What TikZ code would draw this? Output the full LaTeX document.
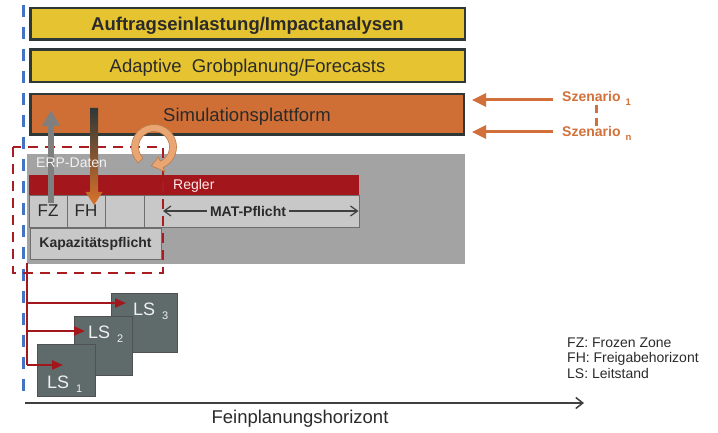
\documentclass[tikz,border=0pt]{standalone}
\usepackage{fontspec}
\setmainfont{Liberation Sans}
\usetikzlibrary{arrows.meta}
\definecolor{yellowfill}{HTML}{E6C431}
\definecolor{boxborder}{HTML}{2E3838}
\definecolor{orangefill}{HTML}{D06F35}
\definecolor{graybg}{HTML}{A3A3A3}
\definecolor{reglerred}{HTML}{A3161C}
\definecolor{cellfill}{HTML}{C8C8C8}
\definecolor{cellborder}{HTML}{6E6E6E}
\definecolor{lsfill}{HTML}{5F6A6A}
\definecolor{lsborder}{HTML}{4E5252}
\definecolor{bluedashcol}{HTML}{4472C4}
\definecolor{dashred}{HTML}{A81C22}
\definecolor{scencol}{HTML}{D2703A}
\definecolor{ringfill}{HTML}{E9A672}
\definecolor{ringline}{HTML}{B97A48}
\definecolor{textdark}{HTML}{2A2A2A}
\definecolor{axiscol}{HTML}{404040}
\definecolor{grayarrow}{HTML}{7F7F7F}
\newcommand\fsbig{\fontsize{18.5}{22}\selectfont}
\newcommand\fsmid{\fontsize{17}{20}\selectfont}
\newcommand\fssmall{\fontsize{14}{15.5}\selectfont}
\newcommand\fssub{\fontsize{11}{12}\selectfont}
\begin{document}
\begin{tikzpicture}[x=1pt,y=-1pt,
  topbox/.style={draw=boxborder, line width=2.5pt, inner sep=0pt, text=textdark, font=\fsbig, text depth=0pt},
  cellbox/.style={draw=cellborder, line width=0.8pt, fill=cellfill, inner sep=0pt, text=textdark},
  lsbox/.style={draw=lsborder, line width=0.8pt, fill=lsfill, inner sep=0pt},
  lstext/.style={text=white!94!black, font=\fontsize{18}{20}\selectfont, inner sep=0pt, anchor=base west},
  redline/.style={draw=reglerred, line width=2.2pt},
  redarrow/.style={redline, -{Triangle[length=11pt,width=9pt]}},
  scenarrow/.style={draw=scencol, line width=3pt, -{Triangle[length=14pt,width=13pt]}},
  scentext/.style={text=scencol, font=\fssmall\bfseries, inner sep=0pt, anchor=base west},
  matarrow/.style={draw=textdark!90!white, line width=1.2pt, -{Straight Barb[length=7pt,width=10pt]}},
]
\useasboundingbox (0,0) rectangle (718,433);

% blue dashed horizon line
\coordinate (bl0) at (23,5);
\coordinate (bl1) at (23,398);
\draw[bluedashcol, line width=3pt, dash pattern=on 12pt off 10pt] (bl0) -- (bl1);

% top boxes
\node[topbox, fill=yellowfill, minimum width=434.5pt, minimum height=31.5pt, font=\fsbig\bfseries] (auf) at (247.5,24) {Auftragseinlastung/Impactanalysen};
\node[topbox, fill=yellowfill, minimum width=434.5pt, minimum height=32.5pt] (grob) at (247.5,66) {Adaptive\ \ Grobplanung/Forecasts};
\node[topbox, fill=orangefill, minimum width=433.5pt, minimum height=40.5pt] (sim) at (247,114.5) {Simulationsplattform};

% ERP area
\node[fill=graybg, inner sep=0pt, minimum width=438pt, minimum height=110pt] (erp) at (246,209) {};
\node[fill=reglerred, inner sep=0pt, minimum width=330pt, minimum height=20pt] (regler) at (194,185) {};
\node[text=white!92!red, font=\fssmall, inner sep=0pt, anchor=west] (reglerlbl) at (173,186) {Regler};
\node[cellbox, minimum width=38pt, minimum height=32pt, font=\fsmid] (fz) at (48,211) {FZ};
\node[cellbox, minimum width=38pt, minimum height=32pt, font=\fsmid] (fh) at (86,211) {FH};
\node[cellbox, minimum width=39pt, minimum height=32pt] (empty) at (124.5,211) {};
\node[cellbox, minimum width=215pt, minimum height=32pt] (mat) at (251.5,211) {};
\node[cellbox, minimum width=131pt, minimum height=31pt, font=\fssmall\bfseries] (kap) at (95.5,243.5) {Kapazitätspflicht};

% MAT-Pflicht double arrow
\node[fill=cellfill, text=textdark, font=\fssmall\bfseries, inner sep=3pt, outer sep=0pt] (matlbl) at (248,211) {MAT-Pflicht};
\coordinate (matL) at (163,211);
\coordinate (matR) at (358.5,211);
\draw[matarrow] (matlbl) -- (matL);
\draw[matarrow] (matlbl) -- (matR);

% Leitstaende
\node[lsbox, minimum width=66pt, minimum height=59pt] (ls3) at (144,322.5) {};
\node[lsbox, minimum width=58pt, minimum height=59pt] (ls2) at (103,345.5) {};
\node[lsbox, minimum width=58pt, minimum height=52pt] (ls1) at (66,370) {};
\node[lstext] (ls3lbl) at (133,315.5) {LS\hspace{7pt}\raisebox{-3.5pt}{\fssub 3}};
\node[lstext] (ls2lbl) at (88,338.5) {LS\hspace{7pt}\raisebox{-3.5pt}{\fssub 2}};
\node[lstext] (ls1lbl) at (47,388.5) {LS\hspace{7pt}\raisebox{-3.5pt}{\fssub 1}};

% red distribution lines
\coordinate (rv0) at (27,263);
\coordinate (rv1) at (27,365);
\coordinate (r3) at (27,303);
\coordinate (r2) at (27,331);
\coordinate (t3) at (126,303);
\coordinate (t2) at (85,331);
\coordinate (t1) at (63,365);
\draw[redline] (rv0) -- (rv1);
\draw[redarrow] (r3) -- (t3);
\draw[redarrow] (r2) -- (t2);
\draw[redarrow] (rv1) -- (t1);

% red dashed frame
\coordinate (fr0) at (13,147);
\coordinate (fr1) at (163,273);
\draw[dashred, line width=2.6pt, dash pattern=on 10pt off 7pt] (fr0) rectangle (fr1);

% grey arrow FZ -> Simulation
\coordinate (gtip) at (51,110);
\draw[grayarrow, line width=6pt, -{Triangle[length=16pt,width=17pt]}] ([xshift=3pt,yshift=-8pt]fz.north) -- (gtip);

% gradient arrow Simulation -> FH
\shade[top color=boxborder, middle color=black!15!orangefill!85!brown, bottom color=orangefill!80!orange]
  (90,108) -- (98,108) -- (98,192) -- (102.5,192) -- (94,205) -- (85.5,192) -- (90,192) -- cycle;

% ERP label on top of the arrows
\node[text=white!90!gray, font=\fssmall, inner sep=0pt, anchor=west] (erplbl) at (36,163) {ERP-Daten};

% cycle arrow
\coordinate (rc) at (154,147);
\filldraw[fill=ringfill, draw=ringline, line width=0.6pt]
  ([shift={(rc)}]135:22.5) arc[start angle=135, end angle=426, radius=22.5]
  -- ([shift={(rc)}]426:27) -- ([shift={(rc)}]458:19) -- ([shift={(rc)}]426:11)
  -- ([shift={(rc)}]426:15.5) arc[start angle=426, end angle=135, radius=15.5] -- cycle;

% scenarios
\node[scentext] (sz1) at (562,102) {Szenario\hspace{5pt}\raisebox{-4pt}{\fontsize{9.5}{10}\selectfont 1}};
\node[scentext] (szn) at (562,137) {Szenario\hspace{5pt}\raisebox{-4pt}{\fontsize{9.5}{10}\selectfont n}};
\draw[scenarrow, shorten >=7pt] ([xshift=-9pt,yshift=2pt]sz1.base west) -- ([yshift=2pt]sz1.base west -| sim.east);
\draw[scenarrow, shorten >=7pt] ([xshift=-9pt,yshift=5pt]szn.base west) -- ([yshift=5pt]szn.base west -| sim.east);
\draw[scencol, line width=3pt, dash pattern=on 8pt off 5pt] ([xshift=34pt,yshift=-3pt]sz1.base west) -- ([xshift=34pt,yshift=10pt]szn.base west);

% time axis
\coordinate (ax0) at (25,403);
\coordinate (ax1) at (584,403);
\draw[axiscol, line width=1.5pt, -{Straight Barb[length=7pt,width=11pt]}] (ax0) -- (ax1);
\node[text=textdark, font=\fsbig, inner sep=0pt, anchor=base] (axlbl) at (300,423) {Feinplanungshorizont};

% legend
\node[text=textdark, font=\fssmall, inner sep=0pt, anchor=base west, align=left] (legend) at (567,378)
  {FZ: Frozen Zone\\FH: Freigabehorizont\\LS: Leitstand};
\end{tikzpicture}
\end{document}
